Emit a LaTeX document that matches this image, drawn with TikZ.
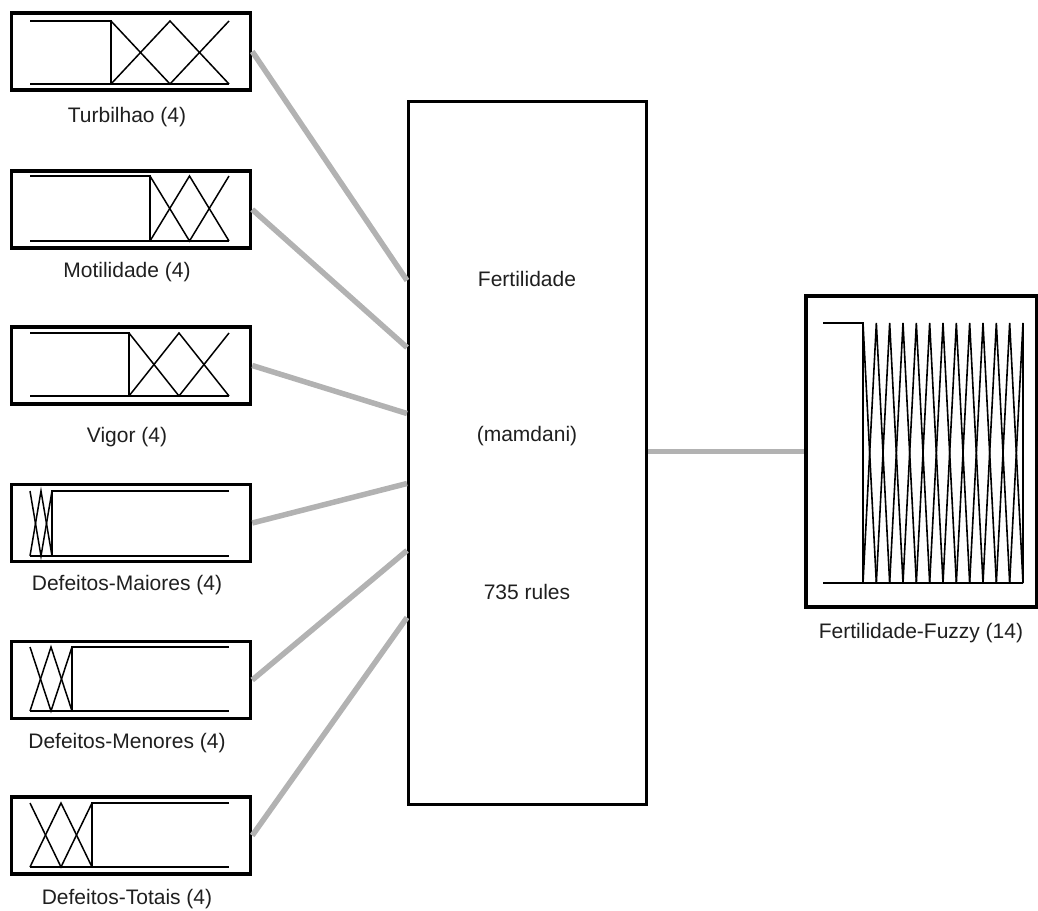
\documentclass[tikz,border=0pt]{standalone}
\usepackage{fontspec}
\setmainfont{Liberation Sans}
\begin{document}
\begin{tikzpicture}[x=1pt,y=-1pt,
  varbox/.style={draw=black,line width=3.5pt,minimum width=239pt,minimum height=77pt,inner sep=0pt,outer sep=1.75pt},
  fisbox/.style={draw=black,line width=3pt,minimum width=238pt,minimum height=703pt,inner sep=0pt,outer sep=1.5pt},
  outbox/.style={draw=black,line width=3.5pt,minimum width=231pt,minimum height=311pt,inner sep=0pt,outer sep=1.75pt},
  lbl/.style={font=\fontsize{21}{25}\selectfont,text=black!88,inner sep=0pt},
  mf/.style={line width=1.5pt,line join=miter},
  conn/.style={draw=black!30,line width=5.5pt}]
\useasboundingbox (0,0) rectangle (1038,910);
% ---- input variable boxes
\node[varbox] (turb) at (131,51.5) {};
\node[varbox] (moti) at (131,209.5) {};
\node[varbox] (vigo) at (131,365.5) {};
\node[varbox] (dmai) at (131,523) {};
\node[varbox] (dmen) at (131,680) {};
\node[varbox] (dtot) at (131,835.5) {};
% labels
\node[lbl] (lturb) at (127,117) {Turbilhao (4)};
\node[lbl] (lmoti) at (127,272) {Motilidade (4)};
\node[lbl] (lvigo) at (127,437) {Vigor (4)};
\node[lbl] (ldmai) at (127,585) {Defeitos-Maiores (4)};
\node[lbl] (ldmen) at (127,743) {Defeitos-Menores (4)};
\node[lbl] (ldtot) at (127,899) {Defeitos-Totais (4)};
% ---- FIS box
\node[fisbox] (fis) at (527.5,453) {};
\node[lbl] (ft1) at (527,279) {Fertilidade};
\node[lbl] (ft2) at (527,436) {(mamdani)};
\node[lbl] (ft3) at (527,592) {735 rules};
% ---- output box
\node[outbox] (outv) at (921.5,451.5) {};
\node[lbl] (lout) at (921,633) {Fertilidade-Fuzzy (14)};
% ---- connectors
\draw[conn] (turb.east) -- ([yshift=172.5pt]fis.west);
\draw[conn] (moti.east) -- ([yshift=105.5pt]fis.west);
\draw[conn] (vigo.east) -- ([yshift=39.5pt]fis.west);
\draw[conn] (dmai.east) -- ([yshift=-30.5pt]fis.west);
\draw[conn] (dmen.east) -- ([yshift=-97.5pt]fis.west);
\draw[conn] (dtot.east) -- ([yshift=-164.5pt]fis.west);
\draw[conn] (fis.east |- outv.west) -- (outv.west);
% ---- membership functions: shoulder on the left, triangles on the right
\foreach \t/\u/\a in {21/84/111, 176/241/150, 333/396/129}{
  \pgfmathsetmacro{\b}{(\a+229)/2}
  \draw[mf] (30,\t) -- (\a,\t) -- (\a,\u);
  \draw[mf] (30,\u) -- (229,\u);
  \draw[mf] (\a,\u) -- (\b,\t) -- (229,\u);
  \draw[mf] (\a,\t) -- (\b,\u) -- (229,\t);
}
% ---- membership functions: triangles on the left, shoulder on the right
\foreach \t/\u/\a in {491/556/52, 647/711/72, 803/867/92}{
  \pgfmathsetmacro{\m}{(\a+30)/2}
  \draw[mf] (229,\t) -- (\a,\t) -- (\a,\u);
  \draw[mf] (30,\u) -- (229,\u);
  \draw[mf] (30,\u) -- (\m,\t) -- (\a,\u);
  \draw[mf] (30,\t) -- (\m,\u) -- (\a,\t);
}
% ---- output membership functions (14)
\draw[mf] (823,323) -- (863,323) -- (863,583);
\draw[mf] (823,583) -- (1023,583);
\foreach \j in {0,...,12}{
  \pgfmathsetmacro{\p}{863+13.333*\j}
  \pgfmathsetmacro{\l}{max(863,\p-13.333)}
  \pgfmathsetmacro{\r}{min(1023,\p+13.333)}
  \draw[line width=1.6pt] (\l,583) -- (\p,323) -- (\r,583);
}
\end{tikzpicture}
\end{document}
